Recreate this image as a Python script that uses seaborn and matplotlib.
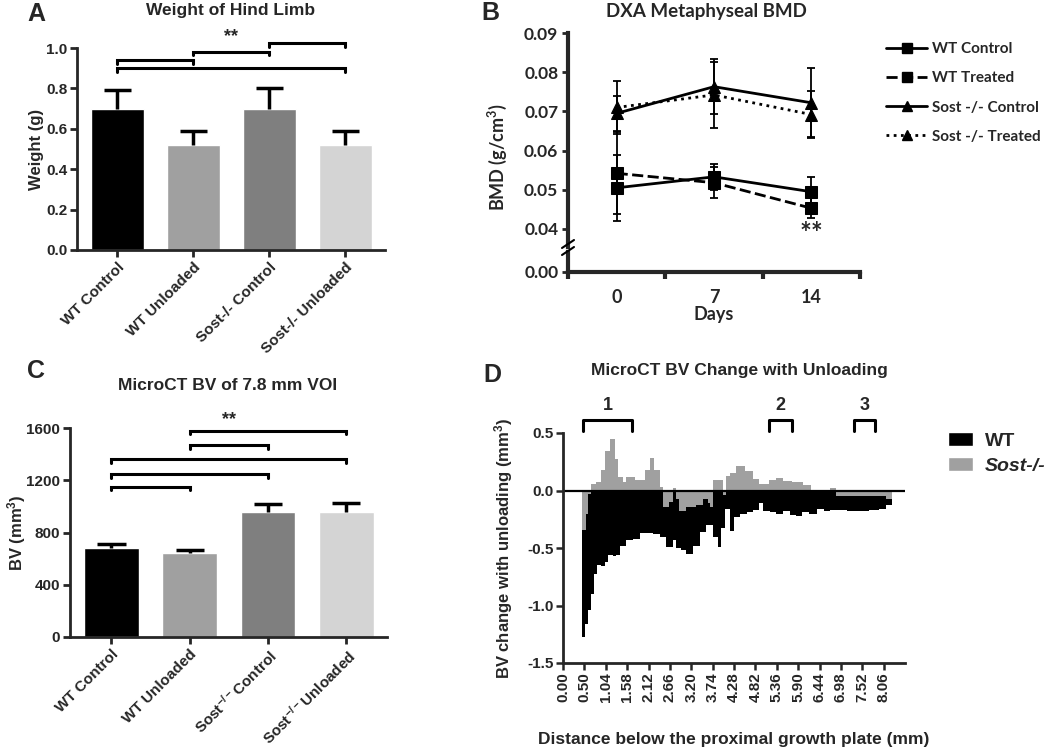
import numpy as np
import pandas as pd
import matplotlib
matplotlib.use("Agg")
import matplotlib.pyplot as plt
import seaborn as sns
from matplotlib.lines import Line2D
from matplotlib.patches import Patch

sns.set_theme(style="ticks")
plt.rcParams['font.family'] = ['Liberation Sans', 'DejaVu Sans']
plt.rcParams['font.weight'] = 'bold'
plt.rcParams['axes.labelweight'] = 'bold'
plt.rcParams['mathtext.default'] = 'regular'

# ---- data ----
groups = ["WT Control", "WT Unloaded", "Sost-/- Control", "Sost-/- Unloaded"]
groups_c = ["WT Control", "WT Unloaded", r"Sost$^{-/-}$Control", r"Sost$^{-/-}$Unloaded"]
bar_colors = ["#000000", "#a0a0a0", "#7f7f7f", "#d4d4d4"]

weight_mean = [0.70, 0.52, 0.70, 0.52]
weight_sd = [0.09, 0.07, 0.10, 0.07]
weight_pairs = [(0, 1, 0.94), (1, 2, 0.982), (2, 3, 1.023), (0, 3, 0.90)]

bv_mean = [680, 640, 955, 960]
bv_sd = [30, 28, 65, 65]
bv_pairs = [(1, 3, 1580), (1, 2, 1467), (0, 3, 1362), (0, 2, 1247), (0, 1, 1152)]

days = ["0", "7", "14"]
bmd_names = ["WT Control", "WT Treated", "Sost -/- Control", "Sost -/- Treated"]
bmd_wt_ctrl = [0.0505, 0.0533, 0.0495]
bmd_wt_trt = [0.0542, 0.0518, 0.0453]
bmd_sost_ctrl = [0.0695, 0.0763, 0.0722]
bmd_sost_trt = [0.0710, 0.0742, 0.0692]
err_wt_ctrl = [0.0085, 0.0033, 0.0037]
err_wt_trt = [0.0105, 0.0040, 0.0025]
err_sost_ctrl = [0.0045, 0.0070, 0.0088]
err_sost_trt = [0.0068, 0.0084, 0.0060]

d_ticks = ["0.00", "0.50", "1.04", "1.58", "2.12", "2.66", "3.20", "3.74",
           "4.28", "4.82", "5.36", "5.90", "6.44", "6.98", "7.52", "8.06"]
wt_pos = [0.89, 1.05, 1.17, 1.33, 1.45, 1.61, 1.79, 1.95, 2.10, 2.34, 2.49, 2.65,
          2.96, 3.27, 3.58, 3.90, 4.20, 4.52, 4.83, 5.14, 5.30, 5.50, 5.77, 6.07,
          6.39, 6.70, 7.01, 7.24, 7.40, 7.56, 7.79, 8.02, 8.26, 8.60, 8.88, 9.19,
          9.35, 9.70, 9.97, 10.28, 10.60, 10.90, 11.20, 11.50, 11.90, 12.20, 12.50,
          12.80, 13.30, 13.80, 14.30, 14.80, 15.10]
wt_val = [-1.27, -1.16, -1.04, -0.90, -0.73, -0.65, -0.66, -0.62, -0.56, -0.57, -0.56, -0.48,
          -0.43, -0.42, -0.37, -0.37, -0.38, -0.40, -0.49, -0.43, -0.50, -0.52, -0.55, -0.48,
          -0.36, -0.30, -0.40, -0.49, -0.33, -0.16, -0.35, -0.23, -0.20, -0.19, -0.17, -0.11,
          -0.18, -0.19, -0.20, -0.18, -0.21, -0.22, -0.19, -0.20, -0.16, -0.18, -0.17,
          -0.17, -0.18, -0.18, -0.17, -0.16, -0.13]
sost_pos = [0.89, 1.09, 1.17, 1.29, 1.55, 1.80, 1.96, 2.18, 2.42, 2.57, 2.80, 2.96,
            3.35, 3.82, 4.05, 4.28, 4.52, 4.67, 4.95, 5.14, 5.30, 5.45, 5.77, 6.23,
            6.54, 6.78, 6.90, 7.01, 7.48, 7.64, 7.79, 8.10, 8.50, 8.88, 9.19, 9.66,
            9.97, 10.28, 10.70, 11.21, 11.61, 11.76, 12.50, 12.78, 14.00, 15.10]
sost_val = [-0.345, -0.20, -0.03, 0.06, 0.07, 0.18, 0.34, 0.45, 0.27, 0.12, 0.07, 0.12,
            0.09, 0.18, 0.28, 0.18, 0.03, -0.14, -0.10, 0.02, -0.07, -0.18, -0.14, -0.13,
            -0.07, -0.11, -0.14, 0.09, -0.04, 0.13, 0.15, 0.21, 0.17, 0.10, 0.06, 0.09,
            0.11, 0.08, 0.07, 0.05, 0.00, -0.01, 0.02, -0.05, -0.05, -0.07]
d_end = 15.4

W, H = 1050, 750
fig = plt.figure(figsize=(W / 100, H / 100), dpi=100)


def box(l, t, r, b):
    return [l / W, 1 - b / H, (r - l) / W, (b - t) / H]


def ftext(x, y, s, **kw):
    fig.text(x / W, 1 - y / H, s, ha=kw.pop("ha", "center"), va=kw.pop("va", "center"), **kw)


def bar_panel(ax, means, sds, labels, pairs, ylim, yticks, star_y, tick_fmt):
    sns.barplot(x=list(range(4)), y=means, hue=list(range(4)), palette=bar_colors,
                legend=False, saturation=1, width=0.7, errorbar=None, ax=ax)
    xs = np.arange(4)
    tops = np.array(means) + np.array(sds)
    ax.vlines(xs, means, tops, color="black", lw=2.5, zorder=1)
    ax.hlines(tops, xs - 0.18, xs + 0.18, color="black", lw=2.5)
    for a, b, y in pairs:
        d = (ylim[1] - ylim[0]) * 0.018
        ax.plot([a, a, b, b], [y - d, y, y, y - d], color="black", lw=2.2,
                clip_on=False, solid_joinstyle="miter")
    ax.text(1.5, star_y, "**", ha="center", va="center", fontsize=13, fontweight="bold")
    ax.set_ylim(*ylim)
    ax.set_xlim(-0.53, 3.52)
    ax.set_yticks(yticks)
    ax.set_yticklabels([tick_fmt(v) for v in yticks], fontsize=11, fontweight="bold")
    ax.set_xticks(range(4))
    ax.set_xticklabels(labels, rotation=45, ha="right", rotation_mode="anchor",
                       fontsize=11, fontweight="bold")
    sns.despine(ax=ax)
    for s in ["left", "bottom"]:
        ax.spines[s].set_linewidth(2)
    ax.tick_params(width=2, length=5, pad=2)


# ---- panel A ----
axA = fig.add_axes(box(77, 48, 385, 250))
bar_panel(axA, weight_mean, weight_sd, groups, weight_pairs, (0, 1.0),
          [0, 0.2, 0.4, 0.6, 0.8, 1.0], 1.058, lambda v: f"{v:.1f}")
axA.set_ylabel("Weight (g)", fontsize=12, va="center")
axA.yaxis.set_label_coords((37 - 77) / 308, 0.5)
ftext(231, 10, "Weight of Hind Limb", fontsize=12.5, fontweight="bold")
ftext(36, 14, "A", fontsize=18, fontweight="bold")

# ---- panel C ----
axC = fig.add_axes(box(70, 428, 387, 637))
bar_panel(axC, bv_mean, bv_sd, groups_c, bv_pairs, (0, 1600),
          [0, 400, 800, 1200, 1600], 1668, lambda v: f"{v:d}")
axC.set_ylabel("BV (mm$^3$)", fontsize=12, va="center")
axC.yaxis.set_label_coords((17 - 70) / 317, 0.5)
ftext(228, 385, "MicroCT BV of 7.8 mm VOI", fontsize=12.5, fontweight="bold")
ftext(36, 371, "C", fontsize=18, fontweight="bold")

# ---- panel B (broken y axis) ----
bfont = ["Lato", "DejaVu Sans"]
rows = []
for name, vals in zip(bmd_names, [bmd_wt_ctrl, bmd_wt_trt, bmd_sost_ctrl, bmd_sost_trt]):
    for i, v in enumerate(vals):
        rows.append({"group": name, "pos": i, "bmd": v})
dfB = pd.DataFrame(rows)

bl, br = 568, 860
axB = fig.add_axes(box(bl, 33, br, 247))
axB0 = fig.add_axes(box(bl, 252, br, 272))
dash_map = {"WT Control": "", "WT Treated": (4, 1.6), "Sost -/- Control": "", "Sost -/- Treated": (1, 1.6)}
mark_map = {"WT Control": "s", "WT Treated": "s", "Sost -/- Control": "^", "Sost -/- Treated": "^"}
sns.lineplot(data=dfB, x="pos", y="bmd", hue="group", style="group", palette=["black"] * 4,
             dashes=dash_map, markers=mark_map, markersize=8, markeredgecolor="black",
             linewidth=2, legend=False, ax=axB)
for vals, errs in zip([bmd_wt_ctrl, bmd_wt_trt, bmd_sost_ctrl, bmd_sost_trt],
                      [err_wt_ctrl, err_wt_trt, err_sost_ctrl, err_sost_trt]):
    axB.errorbar(range(3), vals, yerr=errs, fmt="none", ecolor="black", elinewidth=1.3,
                 capsize=3, capthick=1.3)
axB.set_xlim(-0.5, 2.5)
axB.set_ylim(0.0354, 0.09)
axB.set_yticks([0.04, 0.05, 0.06, 0.07, 0.08, 0.09])
axB.set_yticklabels([f"{v:.2f}" for v in [0.04, 0.05, 0.06, 0.07, 0.08, 0.09]],
                    fontsize=12.5, fontweight="bold", family=bfont)
axB.set_xticks([])
axB.set_xlabel("")
axB.set_ylabel("BMD (g/cm$^3$)", fontsize=13, fontweight="bold", family=bfont, va="center")
axB.yaxis.set_label_coords((497 - bl) / (br - bl), 0.42)
for s in ["top", "right", "bottom"]:
    axB.spines[s].set_visible(False)
axB.spines["left"].set_linewidth(3)
axB.tick_params(axis="y", width=2, length=4, pad=3)
axB.text(2, 0.0388, "**", ha="center", va="center", fontsize=20, family=bfont)

axB0.set_xlim(-0.5, 2.5)
axB0.set_ylim(0, 0.004)
axB0.set_yticks([0])
axB0.set_yticklabels(["0.00"], fontsize=12.5, fontweight="bold", family=bfont)
axB0.set_xticks([-0.5, 0.5, 1.5, 2.5])
axB0.set_xticklabels([])
axB0.set_xticks([0, 1, 2], minor=True)
axB0.set_xticklabels(days, minor=True, fontsize=13, fontweight="bold", family=bfont)
axB0.tick_params(axis="x", which="major", width=3, length=5)
axB0.tick_params(axis="x", which="minor", length=0, pad=12)
axB0.tick_params(axis="y", width=2, length=4, pad=3)
axB0.set_xlabel("Days", fontsize=13, fontweight="bold", family=bfont, labelpad=0)
for s in ["top", "right"]:
    axB0.spines[s].set_visible(False)
axB0.spines["left"].set_linewidth(3)
axB0.spines["bottom"].set_linewidth(3)
for yy in (244, 251):
    fig.add_artist(Line2D([(bl - 6) / W, (bl + 6) / W], [1 - (yy + 4) / H, 1 - (yy - 4) / H],
                          color="black", lw=1.5))

handles = [Line2D([], [], color="black", lw=2, ls="-", marker="s", ms=7),
           Line2D([], [], color="black", lw=2, ls=(0, (4, 1.6)), marker="s", ms=7),
           Line2D([], [], color="black", lw=2, ls="-", marker="^", ms=7),
           Line2D([], [], color="black", lw=2, ls=(0, (1, 1.6)), marker="^", ms=7)]
fig.legend(handles, bmd_names, loc="upper left", bbox_to_anchor=(886 / W, 1 - 42 / H),
           frameon=False, borderpad=0, borderaxespad=0, handlelength=2.7,
           handletextpad=0.3, labelspacing=1.0, prop={"family": bfont, "weight": "bold", "size": 11})
ftext(706, 12, "DXA Metaphyseal BMD", fontsize=13.5, fontweight="bold", family=bfont)
ftext(490, 13, "B", fontsize=18, fontweight="bold")

# ---- panel D ----
axD = fig.add_axes(box(563, 433, 905, 663))
axD.fill_between(np.append(wt_pos, d_end), np.append(wt_val, wt_val[-1]), 0,
                 step="post", color="black", lw=0)
axD.fill_between(np.append(sost_pos, d_end), np.append(sost_val, sost_val[-1]), 0,
                 step="post", color="#a0a0a0", lw=0)
axD.axhline(0, color="black", lw=1.6)
axD.set_xlim(0, 16)
axD.set_ylim(-1.5, 0.5)
axD.set_yticks([-1.5, -1.0, -0.5, 0.0, 0.5])
axD.set_yticklabels([f"{v:.1f}" for v in [-1.5, -1.0, -0.5, 0.0, 0.5]], fontsize=11, fontweight="bold")
axD.set_xticks(range(len(d_ticks)))
axD.set_xticklabels(d_ticks, rotation=90, fontsize=11, fontweight="bold")
sns.despine(ax=axD)
for s in ["left", "bottom"]:
    axD.spines[s].set_linewidth(2)
axD.tick_params(width=1.8, length=5, pad=2)
axD.set_ylabel("BV change with unloading (mm$^3$)", fontsize=12, va="center")
axD.yaxis.set_label_coords((504 - 563) / 342, 0.5)
axD.set_xlabel("Distance below the proximal growth plate (mm)", fontsize=12.5, labelpad=21)
for a, b, lab in [(0.95, 3.25, "1"), (9.66, 10.7, "2"), (13.6, 14.6, "3")]:
    axD.plot([a, a, b, b], [0.52, 0.61, 0.61, 0.52], color="black", lw=2.2, clip_on=False)
    axD.text((a + b) / 2, 0.74, lab, ha="center", va="center", fontsize=13, fontweight="bold")
leg = axD.legend([Patch(facecolor="black"), Patch(facecolor="#a0a0a0")], ["WT", "Sost-/-"],
                 loc="upper left", bbox_to_anchor=(948 / W, 1 - 432 / H),
                 bbox_transform=fig.transFigure, frameon=False, borderpad=0, borderaxespad=0,
                 handlelength=1.3, handleheight=0.75, handletextpad=0.6, labelspacing=0.35,
                 prop={"weight": "bold", "size": 14})
leg.get_texts()[1].set_style("italic")
ftext(739, 371, "MicroCT BV Change with Unloading", fontsize=12.5, fontweight="bold")
ftext(492, 375, "D", fontsize=18, fontweight="bold")

fig.savefig("out.png", dpi=100)
